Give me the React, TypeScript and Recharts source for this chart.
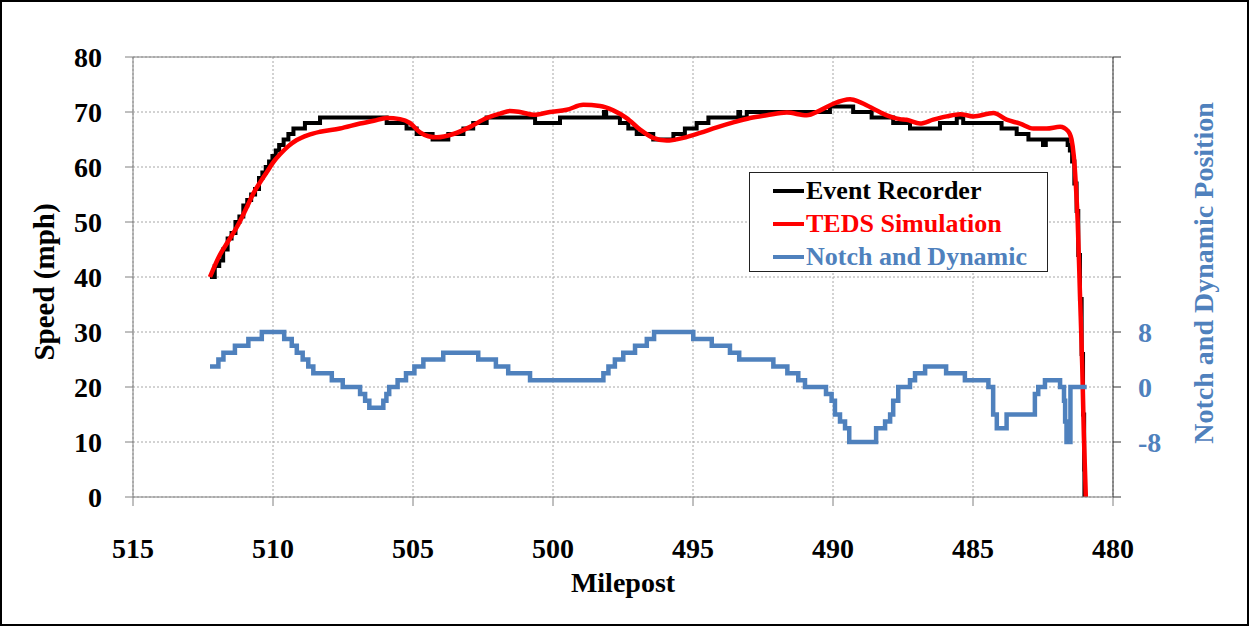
import { LineChart, Line, XAxis, YAxis, CartesianGrid, Legend, ReferenceLine, Label } from "recharts";

const FONT = '"Liberation Serif", "Times New Roman", serif';
const BLUE = "#4F81BD";

const SERIES_NAMES = ["Event Recorder", "TEDS Simulation", "Notch and Dynamic"];
const MILE_TICKS = [515, 510, 505, 500, 495, 490, 485, 480];
const SPEED_TICKS = [0, 10, 20, 30, 40, 50, 60, 70, 80];
const NOTCH_TICKS = [-16, -8, 0, 8, 16, 24, 32, 40, 48];
const NOTCH_LABELS = [-8, 0, 8];

// [milepost, mph]
const EVENT_RECORDER: [number, number][] = [
  [512.25, 40], [512.08, 42], [511.92, 43], [511.78, 45], [511.62, 47], [511.48, 48],
  [511.34, 50], [511.2, 51], [511.06, 53], [510.92, 54], [510.78, 55], [510.64, 56],
  [510.5, 58], [510.38, 59], [510.26, 60], [510.14, 61], [510.02, 62], [509.9, 63],
  [509.78, 64], [509.62, 65], [509.45, 66], [509.27, 67], [508.86, 68], [508.32, 69],
  [505.94, 68], [505.23, 67], [504.87, 66], [504.3, 65], [503.74, 66], [503.2, 67],
  [502.85, 68], [502.37, 69], [500.64, 68], [499.75, 69], [498.18, 70], [498.1, 69],
  [497.61, 68], [497.31, 67], [497.01, 66], [496.42, 65], [495.7, 66], [495.29, 67],
  [494.87, 68], [494.45, 69], [493.38, 70], [493.32, 69], [493.08, 70], [490.11, 71],
  [489.28, 70], [488.62, 69], [487.85, 68], [487.25, 67], [486.18, 68], [485.58, 69],
  [485.35, 68], [483.98, 67], [483.44, 66], [483.02, 65], [482.5, 64], [482.4, 65],
  [481.62, 64], [481.54, 63], [481.46, 61], [481.38, 57], [481.3, 52], [481.24, 44],
  [481.18, 36], [481.12, 26], [481.07, 15], [481.03, 5], [481.02, 0],
];

// [milepost, mph]
const TEDS_SIMULATION: [number, number][] = [
  [512.25, 40], [511.9, 44], [511.6, 46.5], [511.3, 49], [511, 52], [510.7, 55.2],
  [510.45, 57.3], [510.23, 59], [510, 60.8], [509.75, 62.3], [509.45, 63.8], [509.15, 64.9],
  [508.75, 65.8], [508.32, 66.4], [507.61, 67], [506.89, 67.9], [506.4, 68.4], [505.94, 68.9],
  [505.46, 68.7], [505.11, 68], [504.75, 66.3], [504.45, 65.6], [504.15, 65.4], [503.56, 66],
  [502.96, 67.3], [502.37, 68.9], [501.89, 69.7], [501.54, 70.2], [501.18, 70], [500.7, 69.5],
  [500.11, 70], [499.51, 70.4], [498.92, 71.3], [498.32, 71.1], [497.85, 70.3], [497.37, 68.9],
  [496.89, 66.8], [496.42, 65.3], [495.94, 64.8], [495.35, 65.3], [494.75, 66.2], [494.15, 67.2],
  [493.56, 68.1], [492.96, 68.9], [492.37, 69.4], [491.65, 69.9], [490.94, 69.4], [490.46, 70.3],
  [489.99, 71.5], [489.39, 72.3], [489.04, 71.8], [488.56, 70.6], [488.08, 69.4], [487.61, 68.7],
  [487.37, 68.6], [486.89, 67.9], [486.42, 68.6], [485.94, 69.2], [485.46, 69.6], [484.99, 69.2],
  [484.27, 69.8], [483.8, 68.6], [483.32, 67.9], [482.85, 67], [482.37, 67], [481.89, 67.3],
  [481.6, 66.5], [481.48, 65], [481.4, 62], [481.33, 57], [481.26, 50], [481.18, 37],
  [481.1, 24], [481.04, 11], [480.97, 0],
];

// [milepost, notch]
const NOTCH_DYNAMIC: [number, number][] = [
  [512.25, 3], [511.95, 4], [511.77, 5], [511.36, 6], [510.88, 7], [510.4, 8], [509.6, 7],
  [509.33, 6], [509.15, 5], [508.94, 4], [508.74, 3], [508.56, 2], [507.9, 1], [507.51, 0],
  [506.89, -1], [506.71, -2], [506.56, -3], [506.06, -2], [505.95, -1], [505.85, 0],
  [505.55, 1], [505.25, 2], [504.95, 3], [504.63, 4], [503.92, 5], [502.67, 4], [502.04, 3],
  [501.6, 2], [500.82, 1], [498.2, 2], [498.02, 3], [497.79, 4], [497.49, 5], [497.07, 6],
  [496.65, 7], [496.39, 8], [494.99, 7], [494.33, 6], [493.68, 5], [493.35, 4], [492.13, 3],
  [491.63, 2], [491.24, 1], [491, 0], [490.25, -1], [490.05, -2], [489.93, -4], [489.75, -5],
  [489.57, -6], [489.42, -8], [488.46, -6], [488.14, -5], [487.96, -4], [487.85, -2],
  [487.67, 0], [487.25, 1], [487.07, 2], [486.71, 3], [485.96, 2], [485.29, 1], [484.45, 0],
  [484.28, -4], [484.15, -6], [483.8, -4], [482.79, -1], [482.67, 0], [482.43, 1], [481.89, 0],
  [481.75, -2], [481.71, -5], [481.66, -8], [481.52, 0], [480.94, 0],
];

const eventData = EVENT_RECORDER.map(([mp, speed]) => ({ mp, speed }));
const tedsData = TEDS_SIMULATION.map(([mp, speed]) => ({ mp, speed }));
const notchData = NOTCH_DYNAMIC.map(([mp, notch]) => ({ mp, notch }));

const tickStyle = { fill: "#000", fontSize: 28, fontWeight: "bold", fontFamily: FONT };

function NotchTick({ x, y, payload }: any) {
  if (!NOTCH_LABELS.includes(payload.value)) return <g />;
  return (
    <text x={x} y={y} dy="0.35em" textAnchor="start" fill={BLUE} fontSize={28} fontWeight="bold" fontFamily={FONT}>
      {payload.value}
    </text>
  );
}

function LegendBox({ payload }: any) {
  // keep the series in drawing order
  const items = [...(payload ?? [])].sort(
    (a: any, b: any) => SERIES_NAMES.indexOf(a.value) - SERIES_NAMES.indexOf(b.value)
  );
  return (
    <div
      style={{
        border: "1px solid #222",
        background: "#fff",
        width: 299,
        height: 100,
        boxSizing: "border-box",
        padding: "1px 0 0 23px",
      }}
    >
      {items.map((entry: any) => (
        <div key={entry.value} style={{ display: "flex", alignItems: "center", height: 33 }}>
          <span style={{ width: 31, height: 4, background: entry.color, marginRight: 2 }} />
          <span style={{ color: entry.color, fontFamily: FONT, fontWeight: "bold", fontSize: 26, lineHeight: "33px" }}>
            {entry.value}
          </span>
        </div>
      ))}
    </div>
  );
}

export default function App() {
  return (
    <div style={{ position: "absolute", left: 0, top: 0, width: 1249, height: 626, background: "#fff" }}>
      <LineChart width={1249} height={626} margin={{ top: 57, right: 46, bottom: 29, left: 43 }}>
        <CartesianGrid yAxisId="speed" stroke="#a6a6a6" strokeDasharray="2 2" />
        <XAxis
          dataKey="mp"
          type="number"
          domain={[480, 515]}
          ticks={MILE_TICKS}
          reversed
          allowDataOverflow
          height={100}
          stroke="#808080"
          tickSize={9}
          tickMargin={32}
          tick={tickStyle}
        >
          <Label
            content={() => (
              <text x={623} y={582} textAnchor="middle" dominantBaseline="central" fontSize={28} fontWeight="bold" fontFamily={FONT} fill="#000">
                Milepost
              </text>
            )}
          />
        </XAxis>
        <YAxis
          yAxisId="speed"
          domain={[0, 80]}
          ticks={SPEED_TICKS}
          width={90}
          stroke="#808080"
          tickSize={8}
          tickMargin={23}
          tick={tickStyle}
        >
          <Label
            content={() => (
              <text x={44} y={282} transform="rotate(-90 44 282)" textAnchor="middle" dominantBaseline="central" fontSize={29} fontWeight="bold" fontFamily={FONT} fill="#000">
                Speed (mph)
              </text>
            )}
          />
        </YAxis>
        <YAxis
          yAxisId="notch"
          orientation="right"
          domain={[-16, 48]}
          ticks={NOTCH_TICKS}
          width={90}
          stroke="#333"
          tickSize={8}
          tickMargin={17}
          tick={<NotchTick />}
        >
          <Label
            content={() => (
              <text x={1203} y={273} transform="rotate(-90 1203 273)" textAnchor="middle" dominantBaseline="central" fontSize={28} fontWeight="bold" fontFamily={FONT} fill={BLUE}>
                Notch and Dynamic Position
              </text>
            )}
          />
        </YAxis>
        <ReferenceLine yAxisId="speed" y={80} stroke="#808080" />
        <Legend
          layout="horizontal"
          verticalAlign="middle"
          align="center"
          content={<LegendBox />}
          wrapperStyle={{ left: 749, top: 172, width: 299, height: 100 }}
        />
        <Line
          data={eventData}
          yAxisId="speed"
          dataKey="speed"
          name={SERIES_NAMES[0]}
          type="stepAfter"
          stroke="#000"
          strokeWidth={4}
          dot={false}
          isAnimationActive={false}
        />
        <Line
          data={tedsData}
          yAxisId="speed"
          dataKey="speed"
          name={SERIES_NAMES[1]}
          type="monotone"
          stroke="#FF0000"
          strokeWidth={4.5}
          dot={false}
          isAnimationActive={false}
        />
        <Line
          data={notchData}
          yAxisId="notch"
          dataKey="notch"
          name={SERIES_NAMES[2]}
          type="stepAfter"
          stroke={BLUE}
          strokeWidth={4.5}
          dot={false}
          isAnimationActive={false}
        />
      </LineChart>
      <div
        style={{
          position: "absolute",
          left: 0,
          top: 0,
          width: 1249,
          height: 626,
          border: "2px solid #000",
          boxSizing: "border-box",
          pointerEvents: "none",
        }}
      />
    </div>
  );
}
